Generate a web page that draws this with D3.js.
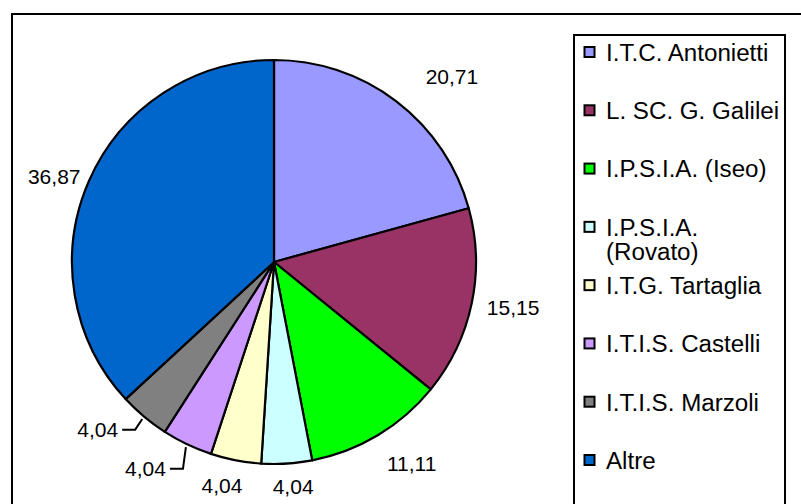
<!DOCTYPE html>
<html>
<head>
<meta charset="utf-8">
<script src="https://cdn.jsdelivr.net/npm/d3@7"></script>
<style>
  body { margin: 0; background: #fff; }
  svg { display: block; font-family: Arial, "Liberation Sans", sans-serif; }
</style>
</head>
<body>
<svg id="chart" width="801" height="504"></svg>
<script>
// Data
const categories = [
    'I.T.C. Antonietti',
    'L. SC. G. Galilei',
    'I.P.S.I.A. (Iseo)',
    'I.P.S.I.A. (Rovato)',
    'I.T.G. Tartaglia',
    'I.T.I.S. Castelli',
    'I.T.I.S. Marzoli',
    'Altre'
];
const values = [20.71, 15.15, 11.11, 4.04, 4.04, 4.04, 4.04, 36.87];
const labels = ['20,71', '15,15', '11,11', '4,04', '4,04', '4,04', '4,04', '36,87'];
const colors = ['#9999ff', '#993366', '#00ff00', '#ccffff', '#ffffcc', '#cc99ff', '#808080', '#0066cc'];

// label drags done in the original (px); the two dragged far keep a leader line
const labelNudge = [[30, -4], [0, -1], [13, 6], [4, -3], [-7, 0], [-26, 1], [-23, -7], [4, 6]];
const withLeader = ['I.T.I.S. Castelli', 'I.T.I.S. Marzoli'];

const svg = d3.select('#chart');
const cx = 274, cy = 262, R = 202;

svg.append('rect')
    .attr('width', 801).attr('height', 504)
    .attr('fill', '#fff');

// outer frame (runs off the right/bottom)
svg.append('rect')
    .attr('x', 12).attr('y', 14)
    .attr('width', 800).attr('height', 500)
    .attr('fill', 'none')
    .attr('stroke', '#000')
    .attr('stroke-width', 2);

const color = d3.scaleOrdinal(categories, colors);

const pie = d3.pie().sort(null).value(d => d.value);
const arcs = pie(categories.map((c, i) => ({ cat: c, value: values[i], label: labels[i], i })));

const arc = d3.arc().innerRadius(0).outerRadius(R);

const g = svg.append('g').attr('transform', `translate(${cx},${cy})`);

g.selectAll('path.slice')
    .data(arcs)
    .enter()
    .append('path')
    .attr('class', 'slice')
    .attr('d', arc)
    .attr('fill', d => color(d.data.cat))
    .attr('stroke', '#000')
    .attr('stroke-width', 2.2)
    .attr('stroke-linejoin', 'round');

// Data labels
const labelR = R + 16;
arcs.forEach(d => {
    const mid = (d.startAngle + d.endAngle) / 2;
    const s = Math.sin(mid), c = Math.cos(mid);

    const t = g.append('text')
        .attr('font-size', '21px')
        .attr('fill', '#000')
        .attr('text-anchor', 'middle')
        .attr('dy', '0.35em')
        .text(d.data.label);
    const w = t.node().getComputedTextLength();
    const h = 20;
    const nudge = labelNudge[d.data.i];
    const lx = labelR * s + (w / 2) * s + nudge[0];
    const ly = -labelR * c - (h / 2) * c + nudge[1];
    t.attr('x', lx).attr('y', ly);

    if (withLeader.includes(d.data.cat)) {
        const side = s < 0 ? 1 : -1;
        const edge = lx + side * (w / 2 + 4);
        const elbow = edge + side * 13;
        const px = (R + 3) * s, py = -(R + 3) * c;
        g.append('path')
            .attr('d', d3.line()([[edge, ly], [elbow, ly], [px, py]]))
            .attr('fill', 'none')
            .attr('stroke', '#000')
            .attr('stroke-width', 2);
    }
});

// Legend
const legend = svg.append('g');
legend.append('rect')
    .attr('x', 574).attr('y', 35)
    .attr('width', 211).attr('height', 480)
    .attr('fill', '#fff')
    .attr('stroke', '#000')
    .attr('stroke-width', 2);

const rowY = d3.scalePoint().domain(categories).range([52.5, 460.5]);
const maxText = 178;
const sx = 1.05;

categories.forEach(cat => {
    const y = rowY(cat);
    legend.append('rect')
        .attr('x', 584.5).attr('y', y - 5.5)
        .attr('width', 10).attr('height', 10)
        .attr('fill', color(cat))
        .attr('stroke', '#000')
        .attr('stroke-width', 2);

    const line = (txt, dy) => legend.append('text')
        .attr('transform', `translate(606,${y + dy}) scale(${sx},1)`)
        .attr('font-size', '23px')
        .attr('dy', '0.36em')
        .attr('fill', '#000')
        .text(txt);

    // wrap long names on the last space
    const t = line(cat, 0);
    if (t.node().getComputedTextLength() * sx > maxText && cat.includes(' ')) {
        const cut = cat.lastIndexOf(' ');
        t.text(cat.slice(0, cut));
        line(cat.slice(cut + 1), 24);
    }
});
</script>
</body>
</html>
